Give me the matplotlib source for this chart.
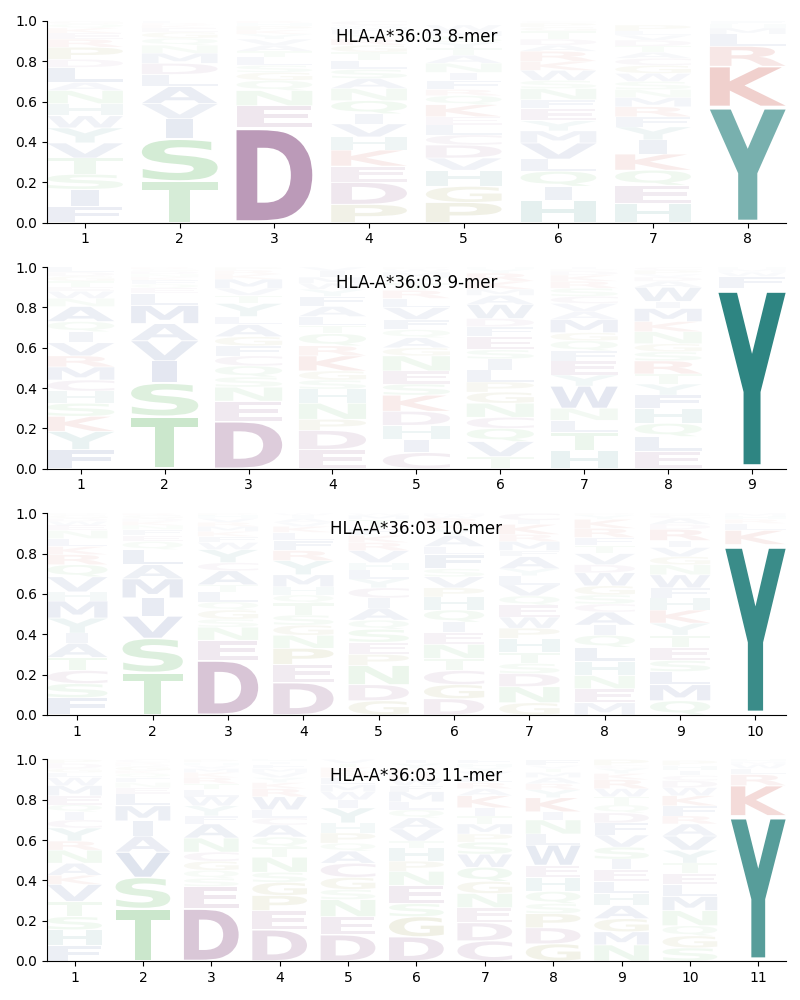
import matplotlib
matplotlib.use("Agg")
import matplotlib.pyplot as plt
from matplotlib.textpath import TextPath
from matplotlib.patches import PathPatch
from matplotlib.font_manager import FontProperties
from matplotlib.transforms import Affine2D

allele = "HLA-A*36:03"

# ---- 8-mer: letters bottom->top per position, with frequencies ----
mer8_letters = ["FISTVYWHNALDPREKQG", "TSIVALDMNQGEKRF", "DENQGSLTAVYKPHR",
                "PDEKHVIQNASLTGRYFMWC", "PGHVDCLEKQRFINATYSMW", "HIQLVMYEFNSWKRADTGPC",
                "HEQKIYFRMNSWGCATDVLP", "YKRLMHF"]
mer8_freqs = [
    [.08, .085, .075, .08, .075, .075, .06, .06, .065, .04, .075, .04, .06, .04, .03, .025, .02, .015],
    [.205, .21, .10, .075, .085, .06, .055, .05, .04, .035, .03, .02, .015, .01, .01],
    [.47, .11, .075, .05, .04, .035, .04, .03, .03, .03, .025, .02, .02, .015, .01],
    [.09, .11, .08, .08, .065, .065, .05, .065, .06, .05, .045, .045, .04, .035, .03, .025, .02, .015, .01, .02],
    [.1, .08, .08, .06, .065, .05, .05, .04, .06, .045, .03, .045, .04, .045, .04, .035, .03, .03, .025, .03],
    [.11, .07, .075, .06, .08, .06, .05, .06, .045, .055, .04, .05, .045, .05, .03, .03, .04, .02, .02, .01],
    [.095, .09, .075, .08, .07, .065, .05, .05, .045, .04, .04, .04, .04, .035, .03, .03, .03, .025, .02, .03],
    [.575, .2, .1, .06, .03, .02, .015],
]

# ---- 9-mer ----
mer9_letters = ["FYKSHCMRVIQANWETGDL", "TSIVAMLEQFKNDGR", "DENSQCFGALYTVMKRP",
                "EDPNHSGKRQTLAFYWMIV", "CIHDKSENGAQFVLRTYMWP", "TVQCNGPLISEFDWAMKRYH",
                "HTLNWYEFQGMAVCSRKDPI", "ELQHFYTRSGNKMIWADVPC", "YFWMH"]
mer9_freqs = [
    [.095, .09, .075, .065, .06, .055, .065, .055, .065, .055, .05, .075, .04, .035, .02, .03, .025, .02, .025],
    [.26, .165, .11, .10, .085, .09, .06, .025, .02, .02, .015, .015, .015, .01, .01],
    [.235, .1, .07, .05, .055, .05, .05, .045, .06, .04, .065, .04, .035, .045, .025, .02, .015],
    [.095, .095, .055, .08, .07, .045, .045, .075, .05, .06, .04, .045, .05, .05, .035, .03, .03, .03, .02],
    [.08, .065, .07, .07, .08, .055, .065, .075, .04, .05, .04, .05, .06, .045, .04, .035, .03, .025, .015, .01],
    [.06, .075, .065, .055, .07, .055, .05, .06, .055, .045, .065, .05, .04, .07, .045, .03, .04, .04, .02, .01],
    [.09, .09, .06, .06, .11, .055, .07, .05, .05, .04, .065, .04, .04, .035, .04, .035, .03, .02, .01, .01],
    [.085, .075, .065, .075, .065, .055, .05, .065, .045, .04, .06, .05, .065, .035, .07, .03, .02, .015, .02, .015],
    [.895, .06, .02, .015, .01],
]

# ---- 10-mer ----
mer10_letters = ["FSCTAIYMHVQRKLNEWDGP", "TSVIMALQEFNKDGR", "DENSGQLTACYWFKMRVHP",
                 "DEPNGSTQHMYRFLKVAIW", "GDNPESQAICYLHVRKFTMW", "DGCTNEIQHPVSFLAYKRWM",
                 "GNDSTHPWEQVLYAFMRKIC", "MENHLQIACSGWDVTFRKYP", "QMLSETYKHFWNGVIRDACP", "YKLRHM"]
mer10_freqs = [
    [.085, .07, .065, .065, .07, .05, .075, .085, .045, .075, .06, .05, .04, .04, .04, .025, .02, .015, .015, .01],
    [.21, .17, .11, .09, .095, .07, .075, .04, .03, .03, .02, .02, .015, .015, .01],
    [.27, .1, .065, .04, .045, .04, .05, .035, .07, .04, .065, .035, .03, .025, .025, .02, .02, .015, .01],
    [.16, .09, .08, .065, .05, .05, .06, .04, .04, .06, .07, .05, .05, .04, .03, .02, .02, .015, .01],
    [.07, .08, .095, .055, .06, .065, .045, .06, .05, .05, .045, .045, .035, .06, .04, .035, .035, .045, .02, .01],
    [.08, .07, .07, .06, .07, .06, .05, .06, .065, .045, .055, .04, .07, .04, .055, .03, .025, .03, .015, .01],
    [.06, .08, .065, .05, .055, .07, .05, .055, .06, .045, .055, .045, .035, .06, .03, .045, .035, .05, .02, .035],
    [.06, .07, .065, .07, .07, .06, .05, .065, .04, .045, .045, .065, .04, .055, .04, .04, .045, .045, .02, .01],
    [.07, .08, .065, .055, .065, .06, .06, .065, .06, .05, .065, .05, .04, .045, .035, .055, .025, .03, .015, .01],
    [.845, .07, .035, .02, .015, .015],
]

# ---- 11-mer ----
mer11_letters = ["FHSTVKANRYCIQEMWLGDP", "TSVAIMLENFQKGDRC", "DESQGCNAFYWLTRKMVHP",
                 "DEPGSNTQACLWRKYVMFIH", "DENSGCAQPHYIWMLRKTV", "DGSENPHTVAQLMFWRKYI",
                 "CDENGQWSPMTIKARLVYHF", "GDPSQHEWLNIKYRAMTVF", "NMGAHLEISVFDQTWRKYCP",
                 "SGQNMLETYVARFKWDCIHP", "YKRLWMH"]
mer11_freqs = [
    [.075, .08, .065, .075, .085, .045, .06, .065, .045, .065, .04, .04, .035, .045, .05, .04, .025, .02, .025, .02],
    [.26, .155, .125, .08, .075, .075, .06, .03, .025, .025, .02, .015, .02, .01, .01, .015],
    [.26, .11, .04, .04, .045, .045, .07, .07, .04, .05, .045, .035, .03, .03, .025, .02, .015, .015, .015],
    [.155, .095, .075, .065, .05, .075, .05, .05, .06, .035, .04, .065, .04, .03, .025, .025, .02, .02, .015, .01],
    [.13, .09, .085, .05, .06, .07, .06, .04, .05, .05, .075, .04, .04, .035, .035, .025, .025, .02, .02],
    [.12, .1, .065, .09, .07, .05, .065, .035, .06, .055, .04, .04, .05, .03, .03, .03, .025, .025, .02],
    [.1, .09, .075, .07, .06, .07, .065, .06, .04, .05, .04, .04, .06, .035, .03, .03, .025, .02, .02, .02],
    [.085, .08, .07, .05, .06, .07, .06, .1, .055, .07, .04, .07, .04, .03, .03, .025, .02, .015, .03],
    [.08, .065, .065, .065, .06, .06, .06, .05, .06, .06, .06, .05, .04, .04, .04, .045, .03, .025, .015, .03],
    [.065, .06, .05, .075, .07, .06, .055, .05, .065, .07, .06, .04, .05, .05, .04, .035, .025, .025, .025, .025],
    [.72, .15, .055, .03, .02, .015, .01],
]

panels = [("8-mer", mer8_letters, mer8_freqs),
          ("9-mer", mer9_letters, mer9_freqs),
          ("10-mer", mer10_letters, mer10_freqs),
          ("11-mer", mer11_letters, mer11_freqs)]

group_colors = {
    "AVILMFW": "#23408C",
    "DEC": "#7F3F78",
    "KR": "#BE2D23",
    "STNQ": "#4CAF50",
    "GP": "#7A7A14",
    "HY": "#2E8582",
}
color_of = {}
for letters, col in group_colors.items():
    for ch in letters:
        color_of[ch] = col

for _, L, F in panels:
    for s, f in zip(L, F):
        assert len(s) == len(f), (s, len(s), len(f))

max_freq = max(max(f) for _, _, F in panels for f in F)

fp = FontProperties(family="DejaVu Sans", weight="bold")
ref_ext = TextPath((0, 0), "E", size=1, prop=fp).get_extents()

WIDTH = 0.8
VPAD = 0.05


def draw_glyph(ax, ch, x, y0, h, color, alpha):
    path = TextPath((0, 0), ch, size=1, prop=fp)
    ext = path.get_extents()
    hs = WIDTH / ref_ext.width
    cw = min(hs * ext.width, WIDTH)
    hs = cw / ext.width
    vs = (1 - VPAD) * h / ext.height
    tr = (Affine2D().translate(-ext.xmin, -ext.ymin).scale(hs, vs)
          .translate(x - cw / 2, y0 + VPAD * h / 2))
    p = tr.transform_path(path)
    ax.add_patch(PathPatch(p, facecolor=color, edgecolor="none",
                           alpha=min(1.0, alpha), lw=0))


fig, axes = plt.subplots(4, 1, figsize=(8, 10), dpi=100)
fig.subplots_adjust(left=0.059, right=0.982, top=0.979, bottom=0.039, hspace=0.221)

for ax, (name, L, F) in zip(axes, panels):
    n = len(L)
    for i, (letters, freqs) in enumerate(zip(L, F)):
        x = i + 1
        y = 0.0
        for ch, f in zip(letters, freqs):
            draw_glyph(ax, ch, x, y, f, color_of[ch], f / max_freq)
            y += f
    ax.set_xlim(1 - WIDTH / 2, n + WIDTH / 2)
    ax.set_ylim(0, 1)
    ax.set_xticks(range(1, n + 1))
    ax.set_yticks([0, 0.2, 0.4, 0.6, 0.8, 1.0])
    ax.spines["top"].set_visible(False)
    ax.spines["right"].set_visible(False)
    ax.text(0.5, 0.92, f"{allele} {name}", transform=ax.transAxes,
            ha="center", va="center", fontsize=12)

fig.savefig("out.png", dpi=100)
